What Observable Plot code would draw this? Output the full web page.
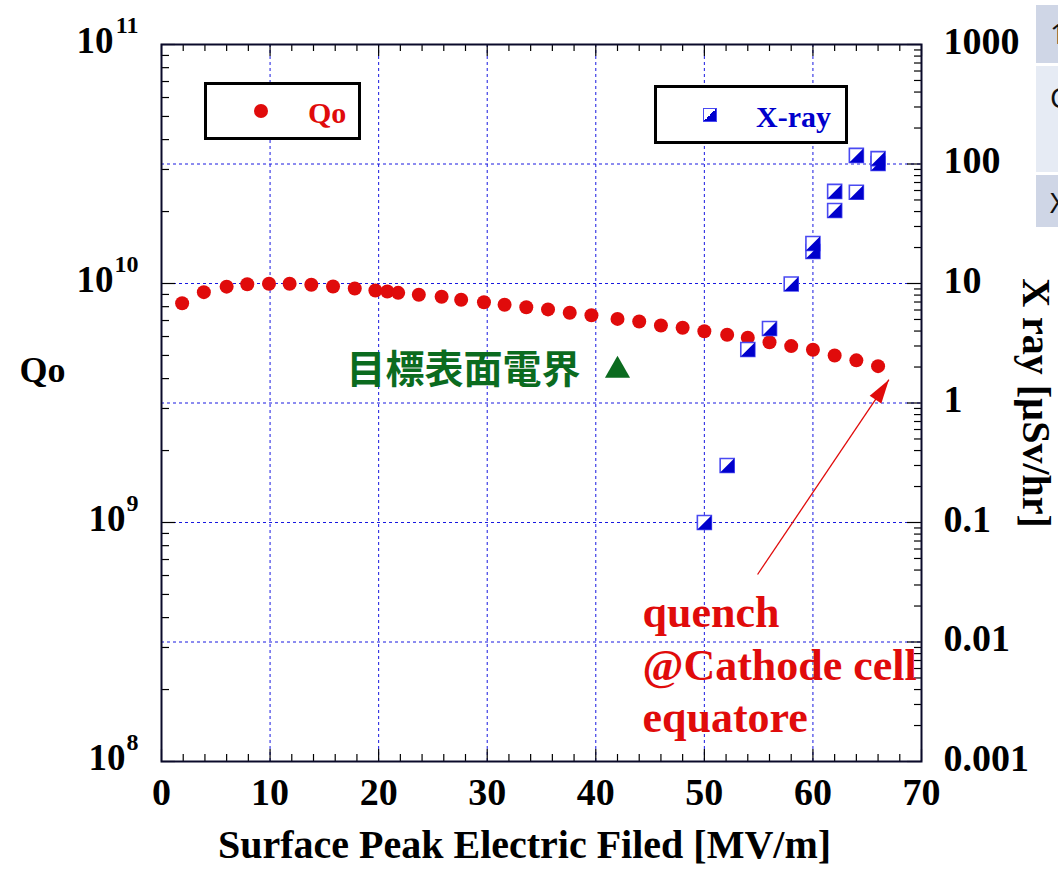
<!DOCTYPE html>
<html>
<head>
<meta charset="utf-8">
<script src="https://cdn.jsdelivr.net/npm/d3@7"></script>
<script src="https://cdn.jsdelivr.net/npm/@observablehq/plot@0.6"></script>
<style>
  html, body { margin: 0; padding: 0; background: #fff; overflow: hidden; }
  #wrap { position: relative; width: 1058px; height: 871px; overflow: hidden; }
  .legend { position: absolute; box-sizing: border-box; border: 3px solid #000; background: #fff; }
  .lt { position: absolute; font-family: "Liberation Serif", serif; font-weight: bold; font-size: 30px; line-height: 30px; white-space: nowrap; }
  .side { position: absolute; left: 1036px; width: 40px; font-family: "Noto Sans", sans-serif; font-size: 28px; color: #111; }
</style>
</head>
<body>
<div id="wrap"></div>
<script>
// ---- data ----
const qoField = [1.9,3.9,6.0,7.9,9.9,11.8,13.8,15.8,17.8,19.7,20.8,21.8,23.7,25.8,27.6,29.7,31.6,33.6,35.6,37.6,39.6,42.0,44.0,46.0,48.0,50.0,52.1,54.0,56.0,58.0,60.0,62.0,64.0,66.0];
const qoValue = [8.27e9,9.2e9,9.7e9,9.93e9,9.97e9,9.97e9,9.88e9,9.71e9,9.53e9,9.35e9,9.26e9,9.14e9,8.97e9,8.8e9,8.55e9,8.35e9,8.15e9,7.96e9,7.79e9,7.54e9,7.36e9,7.11e9,6.93e9,6.67e9,6.53e9,6.31e9,6.10e9,5.93e9,5.68e9,5.47e9,5.28e9,5.0e9,4.77e9,4.51e9];

const xrayField = [50.0,52.1,54.0,56.0,58.0,60.0,60.0,62.0,62.0,64.0,64.0,66.0,66.0];
const xrayDose  = [0.1,0.30,2.8,4.2,9.9,18.5,21.6,40.8,59,58,118,101,111];

const targetField = [42.0];
const targetQ = [4.33e9];
const targetLabel = "目標表面電界";

const quenchLabel = "quench\n@Cathode cell\nequatore";
const quenchAt = [44.3, 2.59e8];
const arrowFrom = [54.9, 6.06e8];
const arrowTo = [67.0, 3.96e9];

const xTicks = [0,10,20,30,40,50,60,70];
const xMinor = [2,4,6,8,12,14,16,18,22,24,26,28,32,34,36,38,42,44,46,48,52,54,56,58,62,64,66,68];
const xGrid = [10,20,30,40,50,60];
const leftTicks = [1e8,1e9,1e10,1e11];
const leftExp = ["8","9","10","11"];
const rightTicks = [0.001,0.01,0.1,1,10,100,1000];
const rightLabels = ["0.001","0.01","0.1","1","10","100","1000"];
const rightGrid = [0.01,0.1,1,10,100];

const xLabel = "Surface Peak Electric Filed [MV/m]";
const yLabel = "Qo";
const y2Label = "X ray [µSv/hr]";

// right axis (µSv/hr, 6 decades) mapped onto left axis (Qo, 3 decades)
const toLeft = v => 1e8 * Math.sqrt(v * 1000);

const leftMinor = [];
for (const d of [1e8,1e9,1e10]) for (let k = 2; k <= 9; k++) leftMinor.push(k * d);
const rightMinor = [];
for (const d of [0.001,0.01,0.1,1,10,100]) for (let k = 2; k <= 9; k++) rightMinor.push(toLeft(k * d));

const qoData = qoField.map((x, i) => ({x, y: qoValue[i]}));
const xrData = xrayField.map((x, i) => ({x, y: toLeft(xrayDose[i])}));
const leftData = leftTicks.map((v, i) => ({v, e: leftExp[i]}));
const rightData = rightTicks.map((v, i) => ({v: toLeft(v), t: rightLabels[i]}));

const halfSquare = { draw(ctx, size) { const s = Math.sqrt(size) / 2; ctx.moveTo(s, -s); ctx.lineTo(s, s); ctx.lineTo(-s, s); ctx.closePath(); } };
const arrowHead = { draw(ctx) { ctx.moveTo(0, 0); ctx.lineTo(-7, 24); ctx.lineTo(7, 24); ctx.closePath(); } };

const W = 1058, H = 871, mL = 161, mR = 137, mT = 44, mB = 110;
const iw = W - mL - mR, ih = H - mT - mB;
const serif = "Liberation Serif";
const red = "#e00b0b", blue = "#0000cc", gridBlue = "#1818e0", green = "#0b6b1f";

const plot = Plot.plot({
  width: W, height: H,
  marginLeft: mL, marginRight: mR, marginTop: mT, marginBottom: mB,
  x: {domain: [0, 70], axis: null},
  y: {type: "log", domain: [1e8, 1e11], axis: null},
  style: {fontFamily: serif, fontWeight: "bold", fontSize: "37px", background: "#fff"},
  marks: [
    Plot.gridX(xGrid, {stroke: gridBlue, strokeOpacity: 1, strokeDasharray: "3,3", strokeWidth: 1}),
    Plot.gridY(rightGrid.map(toLeft), {stroke: gridBlue, strokeOpacity: 1, strokeDasharray: "3,3", strokeWidth: 1}),
    // ticks (inward, mirrored)
    Plot.tickX(xTicks, {x: d => d, insetTop: ih - 12, stroke: "#000", strokeWidth: 1.2}),
    Plot.tickX(xTicks, {x: d => d, insetBottom: ih - 12, stroke: "#000", strokeWidth: 1.2}),
    Plot.tickX(xMinor, {x: d => d, insetTop: ih - 7, stroke: "#000", strokeWidth: 1.2}),
    Plot.tickX(xMinor, {x: d => d, insetBottom: ih - 7, stroke: "#000", strokeWidth: 1.2}),
    Plot.tickY(leftTicks, {y: d => d, insetRight: iw - 14, stroke: "#000", strokeWidth: 1.2}),
    Plot.tickY(leftMinor, {y: d => d, insetRight: iw - 8, stroke: "#000", strokeWidth: 1.2}),
    Plot.tickY(rightTicks.map(toLeft), {y: d => d, insetLeft: iw - 14, stroke: "#000", strokeWidth: 1.2}),
    Plot.tickY(rightMinor, {y: d => d, insetLeft: iw - 7, stroke: "#000", strokeWidth: 1.2}),
    Plot.frame({stroke: "#0a0a2a", strokeWidth: 2}),
    // tick labels
    Plot.text(xTicks, {x: d => d, frameAnchor: "bottom", dy: 43, text: d => String(d), fontSize: 38, fill: "#000"}),
    Plot.text(leftData.filter(d => d.e.length === 2), {y: "v", frameAnchor: "left", text: () => "10", textAnchor: "end", dx: -48, dy: -3, fontSize: 37, fill: "#000"}),
    Plot.text(leftData.filter(d => d.e.length === 1), {y: "v", frameAnchor: "left", text: () => "10", textAnchor: "end", dx: -36, dy: -3, fontSize: 37, fill: "#000"}),
    Plot.text(leftData, {y: "v", frameAnchor: "left", text: "e", textAnchor: "end", dx: -23, dy: -19, fontSize: 24, fill: "#000"}),
    Plot.text(rightData, {y: "v", frameAnchor: "right", text: "t", textAnchor: "start", dx: 22, dy: -3, fontSize: 38, fill: "#000"}),
    // axis labels
    Plot.text([xLabel], {frameAnchor: "bottom", text: d => d, textAnchor: "middle", dy: 96, dx: -17, fontSize: 40, fill: "#000"}),
    Plot.text([yLabel], {frameAnchor: "left", y: () => targetQ[0], text: d => d, textAnchor: "middle", dx: -119, fontSize: 36, fill: "#000"}),
    Plot.text([y2Label], {frameAnchor: "right", y: () => toLeft(1), text: d => d, textAnchor: "middle", dx: 114, rotate: 90, fontSize: 40, fill: "#000"}),
    // data
    Plot.dot(qoData, {x: "x", y: "y", r: 7, fill: red, stroke: "none"}),
    Plot.dot(xrData, {x: "x", y: "y", r: 7.9, symbol: "square", fill: "#fff", stroke: "#4a4af2", strokeWidth: 1.6}),
    Plot.dot(xrData, {x: "x", y: "y", r: 7.9, symbol: halfSquare, fill: blue, stroke: "none"}),
    // annotations
    Plot.dot(targetField.map((x, i) => ({x, y: targetQ[i]})), {x: "x", y: "y", r: 12, symbol: "triangle2", fill: green}),
    Plot.text(targetField.map((x, i) => ({x, y: targetQ[i]})), {x: "x", y: "y", text: () => targetLabel, textAnchor: "end", dx: -37, fontSize: 39, fontFamily: "Noto Sans CJK JP", fontWeight: "bold", fill: green}),
    Plot.link([{}], {x1: () => arrowFrom[0], y1: () => arrowFrom[1], x2: () => arrowTo[0], y2: () => arrowTo[1], stroke: red, strokeWidth: 1.3}),
    Plot.dot([{}], {x: () => arrowTo[0], y: () => arrowTo[1], symbol: arrowHead, rotate: 34, fill: red, stroke: "none"}),
    Plot.text([quenchLabel], {x: () => quenchAt[0], y: () => quenchAt[1], text: d => d, textAnchor: "start", lineHeight: 1.2, fontSize: 44, fill: red})
  ]
});

const wrap = document.getElementById("wrap");
wrap.appendChild(plot);

function el(cls, style, html) {
  const d = document.createElement("div");
  d.className = cls;
  Object.assign(d.style, style);
  if (html != null) d.innerHTML = html;
  wrap.appendChild(d);
  return d;
}
// legend: Qo
el("legend", {left: "204px", top: "82px", width: "157px", height: "58px"});
el("", {position: "absolute", left: "254px", top: "104px", width: "14px", height: "14px", borderRadius: "50%", background: red});
el("lt", {left: "308px", top: "98px", color: red}, "Qo");
// legend: X-ray
el("legend", {left: "654px", top: "85px", width: "194px", height: "59px"});
el("", {position: "absolute", left: "703px", top: "108px", width: "14px", height: "14px", boxSizing: "border-box", border: "1.6px solid #4a4af2", background: "linear-gradient(to bottom right, #fff 50%, " + blue + " 50%)"});
el("lt", {left: "756px", top: "102px", color: blue}, "X-ray");
// clipped side table at top right
el("side", {top: "5px", height: "58px", background: "#cfd6e6"}, "<div style='position:absolute;left:14px;top:9px'>1</div>");
el("side", {top: "66px", height: "106px", background: "#e6ebf4"}, "<div style='position:absolute;left:14px;top:12px'>C</div>");
el("side", {top: "175px", height: "52px", background: "#cfd6e6"}, "<div style='position:absolute;left:14px;top:8px'>X</div>");
</script>
</body>
</html>
